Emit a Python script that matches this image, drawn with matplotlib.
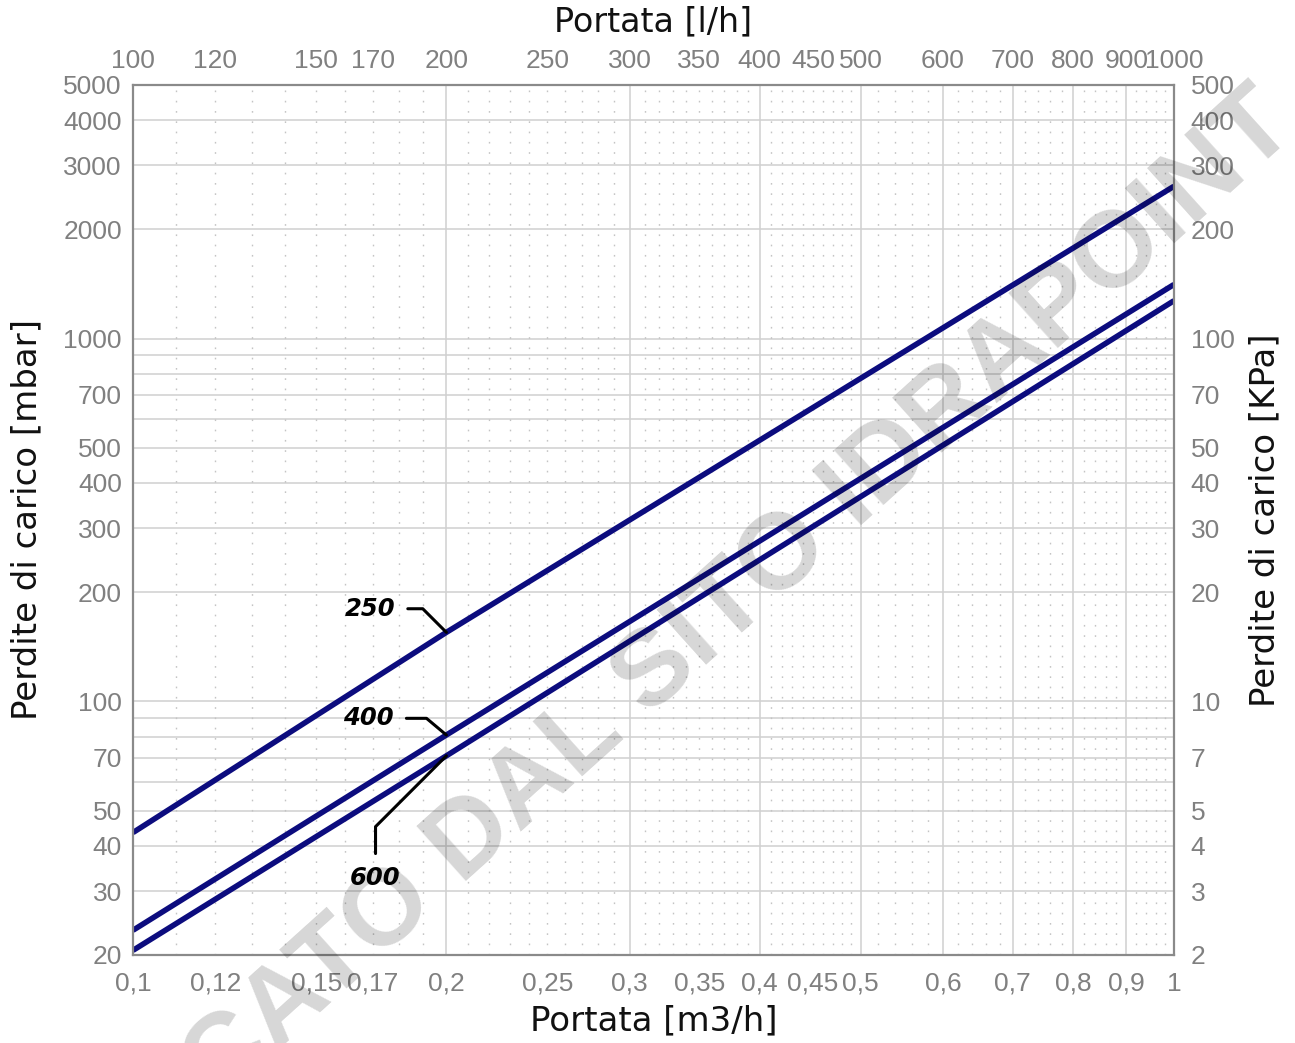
import numpy as np
import matplotlib
matplotlib.use("Agg")
import matplotlib.pyplot as plt
from matplotlib.ticker import FixedLocator, FixedFormatter, NullFormatter

# ---- data ----
flow_m3h = [0.1, 0.2, 1.0]
dp_250 = [43.5, 155, 2630]
dp_400 = [23.4, 80.8, 1410]
dp_600 = [20.6, 70.8, 1272]
series_names = ["250", "400", "600"]

x_ticks = [0.1, 0.12, 0.15, 0.17, 0.2, 0.25, 0.3, 0.35, 0.4, 0.45, 0.5, 0.6, 0.7, 0.8, 0.9, 1.0]
x_ticklabels = ["0,1", "0,12", "0,15", "0,17", "0,2", "0,25", "0,3", "0,35", "0,4", "0,45", "0,5",
                "0,6", "0,7", "0,8", "0,9", "1"]
top_ticks = [100, 120, 150, 170, 200, 250, 300, 350, 400, 450, 500, 600, 700, 800, 900, 1000]
top_ticklabels = [str(t) for t in top_ticks]
y_ticks = [20, 30, 40, 50, 70, 100, 200, 300, 400, 500, 700, 1000, 2000, 3000, 4000, 5000]
y_ticklabels = [str(t) for t in y_ticks]
right_ticks = [2, 3, 4, 5, 7, 10, 20, 30, 40, 50, 70, 100, 200, 300, 400, 500]
right_ticklabels = [str(t) for t in right_ticks]

h_grid = [30, 40, 50, 60, 70, 80, 90, 100, 200, 300, 400, 500, 600, 700, 800, 900,
          1000, 2000, 3000, 4000]
v_grid_major = [0.2, 0.3, 0.4, 0.5, 0.6, 0.7, 0.8, 0.9]
v_grid_minor = [v for v in np.round(np.arange(0.11, 0.50, 0.01), 2) if v not in v_grid_major] + \
               [v for v in np.round(np.arange(0.52, 1.0, 0.02), 2) if v not in v_grid_major]

# ---- figure ----
W, H, DPI = 1295, 1043, 100
fig = plt.figure(figsize=(W / DPI, H / DPI), dpi=DPI)
ax_h = 955 - 85
ax = fig.add_axes([133 / W, 1 - 955 / H, (1174 - 133) / W, ax_h / H])
ax.set_xscale("log")
ax.set_yscale("log")
ax.set_xlim(0.1, 1.0)
ax.set_ylim(20, 5000)

grid_c = "#d0d0d0"
for y in h_grid:
    ax.axhline(y, color=grid_c, lw=1.1, zorder=1)
for x in v_grid_major:
    ax.axvline(x, color=grid_c, lw=1.1, zorder=1)
for x in v_grid_minor:
    ax.axvline(x, color="#c4c4c4", lw=1.0, ls=(0, (1.2, 6.2)), zorder=1)

line_c = "#0c0c7e"
for name, vals in zip(series_names, [dp_250, dp_400, dp_600]):
    ax.plot(flow_m3h, vals, color=line_c, lw=4.0, solid_capstyle="butt",
            solid_joinstyle="round", zorder=3)

def val_at(xq, vals):
    return 10 ** np.interp(np.log10(xq), np.log10(flow_m3h), np.log10(vals))

lab_font = dict(fontsize=17.5, fontweight="bold", fontstyle="italic", color="black",
                family="DejaVu Sans")
ann_offsets = {"250": (-55, 17), "400": (-56, 12), "600": (-51, -88)}
ann_conn = {"250": "angle,angleA=0,angleB=135,rad=0",
            "400": "angle,angleA=0,angleB=140,rad=0",
            "600": "angle,angleA=90,angleB=45,rad=0"}
for name, vals in zip(series_names, [dp_250, dp_400, dp_600]):
    ax.annotate(name, xy=(0.2, val_at(0.2, vals)), xytext=ann_offsets[name],
                textcoords="offset points", ha="center", va="center", zorder=4,
                arrowprops=dict(arrowstyle="-", color="black", lw=2.2,
                                connectionstyle=ann_conn[name], shrinkA=7, shrinkB=0),
                **lab_font)

tick_c = "#808080"
tick_fs = 19
ax.xaxis.set_major_locator(FixedLocator(x_ticks))
ax.xaxis.set_major_formatter(FixedFormatter(x_ticklabels))
ax.xaxis.set_minor_locator(FixedLocator([]))
ax.xaxis.set_minor_formatter(NullFormatter())
ax.yaxis.set_major_locator(FixedLocator(y_ticks))
ax.yaxis.set_major_formatter(FixedFormatter(y_ticklabels))
ax.yaxis.set_minor_locator(FixedLocator([]))
ax.yaxis.set_minor_formatter(NullFormatter())
ax.tick_params(axis="both", which="both", length=0, labelsize=tick_fs, labelcolor=tick_c)
ax.tick_params(axis="x", pad=12)
ax.tick_params(axis="y", pad=8)
for lbl in ax.get_xticklabels() + ax.get_yticklabels():
    lbl.set_family("Liberation Sans")

for s in ax.spines.values():
    s.set_color("#8a8a8a")
    s.set_linewidth(1.6)
    s.set_zorder(5)

ax.set_xlabel("Portata [m3/h]", fontsize=24.5, family="DejaVu Sans", color="#111111", labelpad=6)
ax.set_ylabel("Perdite di carico [mbar]", fontsize=24.5, family="DejaVu Sans", color="#111111",
              labelpad=14)

# top axis (l/h)
axt = ax.twiny()
axt.set_xscale("log")
axt.set_xlim(100, 1000)
axt.xaxis.set_major_locator(FixedLocator(top_ticks))
axt.xaxis.set_major_formatter(FixedFormatter(top_ticklabels))
axt.xaxis.set_minor_locator(FixedLocator([]))
axt.xaxis.set_minor_formatter(NullFormatter())
axt.tick_params(axis="x", length=0, labelsize=tick_fs, labelcolor=tick_c, pad=9)
for lbl in axt.get_xticklabels():
    lbl.set_family("Liberation Sans")
axt.set_xlabel("Portata [l/h]", fontsize=24, family="DejaVu Sans", color="#111111",
               va="center")
axt.xaxis.set_label_coords(0.5, (955 - 22) / ax_h)
for s in axt.spines.values():
    s.set_visible(False)

# right axis (kPa)
axr = ax.twinx()
axr.set_yscale("log")
axr.set_ylim(2, 500)
axr.yaxis.set_major_locator(FixedLocator(right_ticks))
axr.yaxis.set_major_formatter(FixedFormatter(right_ticklabels))
axr.yaxis.set_minor_locator(FixedLocator([]))
axr.yaxis.set_minor_formatter(NullFormatter())
axr.tick_params(axis="y", length=0, labelsize=tick_fs, labelcolor=tick_c, pad=12)
for lbl in axr.get_yticklabels():
    lbl.set_family("Liberation Sans")
axr.set_ylabel("Perdite di carico [KPa]", fontsize=24.5, family="DejaVu Sans", color="#111111",
               labelpad=10)
for s in axr.spines.values():
    s.set_visible(False)

# watermark (partly outside the picture, as in the reference)
fig.text(615 / W, 1 - 710 / H, "SCARICATO DAL SITO IDRAPOINT", rotation=42,
         ha="center", va="center", rotation_mode="anchor", fontsize=78, fontweight="bold",
         family="Liberation Sans", color=(0, 0, 0, 0.16), zorder=10)

fig.savefig("out.png", dpi=DPI)
